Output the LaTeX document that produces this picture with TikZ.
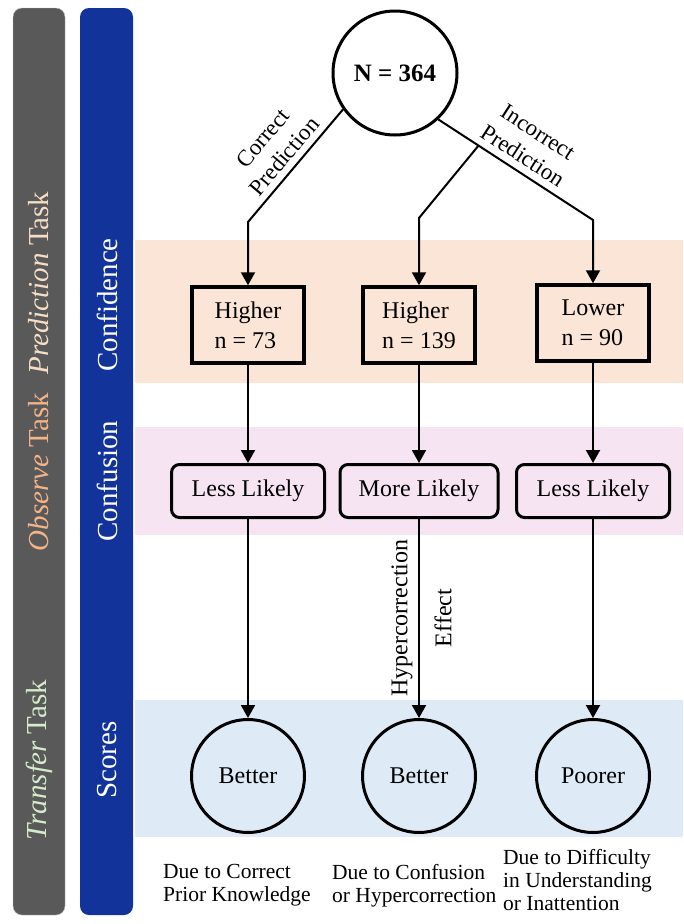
\documentclass[tikz,border=0pt]{standalone}
\usepackage{fontspec}
\setmainfont{LiberationSerif}[Extension=.ttf,UprightFont=*-Regular,BoldFont=*-Bold,ItalicFont=*-Italic,BoldItalicFont=*-BoldItalic]
\usepackage{tikz}
\usetikzlibrary{calc}
\usetikzlibrary{arrows.meta}

\definecolor{bargray}{RGB}{89,89,89}
\definecolor{barblue}{RGB}{18,51,153}
\definecolor{peachband}{RGB}{251,229,214}
\definecolor{pinkband}{RGB}{246,228,242}
\definecolor{blueband}{RGB}{222,234,246}
\definecolor{predtxt}{RGB}{246,222,198}
\definecolor{obstxt}{RGB}{244,180,136}
\definecolor{transtxt}{RGB}{214,234,204}

\begin{document}
\begin{tikzpicture}[x=1pt,y=-1pt,
    every node/.style={font=\fontsize{24}{30}\selectfont},
    link/.style={line width=2pt,-{Triangle[length=13pt,width=14pt]}},
    confbox/.style={draw,line width=3.5pt,fill=peachband,minimum width=112pt,minimum height=76pt,align=left},
    confusebox/.style={draw,line width=3pt,fill=pinkband,rounded corners=8pt,minimum width=153pt,minimum height=53pt},
    scorecirc/.style={circle,draw,line width=3pt,fill=blueband,minimum size=113pt},
    barlabel/.style={rotate=90,font=\fontsize{29}{34}\selectfont},
    note/.style={anchor=north west,align=left,inner sep=0pt,font=\fontsize{21.5}{23}\selectfont}]
\useasboundingbox (0,0) rectangle (683,924);
\draw[fill=bargray,draw=black!25,rounded corners=9pt] (13,8) rectangle (65,915);
\fill[barblue,rounded corners=9pt] (80,8) rectangle (133,915);
\fill[peachband] (135,240) rectangle (683,383);
\fill[pinkband] (135,427) rectangle (683,535);
\fill[blueband] (135,700) rectangle (683,837);

\node[barlabel,text=predtxt] (ptask) at (39,283) {\textit{Prediction} Task};
\node[barlabel,text=obstxt] (otask) at (39,472) {\textit{Observe} Task};
\node[barlabel,text=transtxt] (ttask) at (39,760) {\textit{Transfer} Task};
\node[barlabel,text=white] (lconf) at (107,305) {Confidence};
\node[barlabel,text=white] (lcnf) at (107,481) {Confusion};
\node[barlabel,text=white] (lscore) at (107,760) {Scores};

\node[circle,draw,line width=3pt,fill=white,minimum size=124pt,font=\fontsize{25}{30}\selectfont\bfseries] (top) at (395,73) {N = 364};

\node[confbox] (conf1) at (248,325) {Higher\\n = 73};
\node[confbox] (conf2) at (419,325) {Higher\\n = 139};
\node[confbox] (conf3) at (593,323) {Lower\\n = 90};

\node[confusebox] (cnf1) at (248,491) {Less Likely};
\node[confusebox,minimum width=158pt] (cnf2) at (419,491) {More Likely};
\node[confusebox] (cnf3) at (593,491) {Less Likely};

\node[scorecirc] (sc1) at (248,776) {Better};
\node[scorecirc] (sc2) at (419,776) {Better};
\node[scorecirc] (sc3) at (593,776) {Poorer};

\coordinate (lb) at (conf1.north |- 0,222);
\coordinate (mb) at (conf2.north |- 0,218);
\coordinate (rb) at (conf3.north |- 0,220);
\coordinate (split) at ($(top.313)!0.26!(rb)$);

\draw[link] (top.215) -- node[sloped,above,pos=0.5,align=center,inner sep=6pt,font=\fontsize{23}{28}\selectfont] (cpred) {Correct\\Prediction} (lb) -- (conf1.north);
\draw[link] (top.313) -- node[sloped,above,pos=0.49,align=center,inner sep=7pt,font=\fontsize{23}{28}\selectfont] (ipred) {Incorrect\\Prediction} (rb) -- (conf3.north);
\draw[link] (split) -- (mb) -- (conf2.north);

\draw[link] (conf1) -- (cnf1);
\draw[link] (conf2) -- (cnf2);
\draw[link] (conf3) -- (cnf3);
\draw[link] (cnf1) -- (sc1);
\draw[link] (cnf2) -- (sc2);
\draw[link] (cnf3) -- (sc3);

\node[rotate=90] (hyper) at (402,618) {Hypercorrection};
\node[rotate=90] (effect) at (443,618) {Effect};

\node[note] (why1) at (163,864) {Due to Correct\\Prior Knowledge};
\node[note] (why2) at (332,864) {Due to Confusion\\or Hypercorrection};
\node[note] (why3) at (503,849) {Due to Difficulty\\in Understanding\\or Inattention};
\end{tikzpicture}
\end{document}
